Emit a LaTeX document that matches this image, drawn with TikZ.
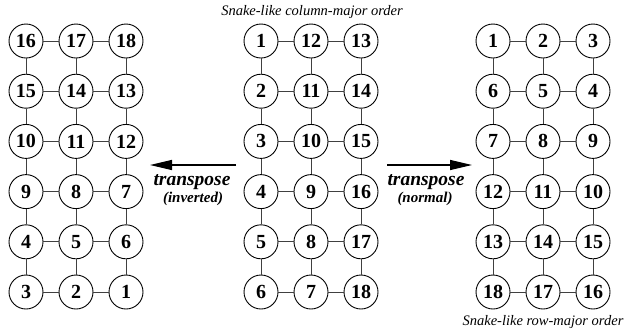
\documentclass[tikz,border=0pt]{standalone}
\usepackage{fontspec}
\setmainfont{Liberation Serif}[
  BoldFont={Liberation Serif Bold},
  ItalicFont={Liberation Serif Italic},
  BoldItalicFont={Liberation Serif Bold Italic}]
\usetikzlibrary{arrows.meta}
\begin{document}
\begin{tikzpicture}[x=1pt,y=-1pt,
  cell/.style={circle,draw=black,line width=0.9pt,minimum size=34pt,inner sep=0pt,
    font=\fontsize{20}{20}\selectfont\bfseries},
  link/.style={draw=black!75,line width=0.9pt},
  bigarrow/.style={line width=1.3pt,-{Triangle[length=22pt,width=10pt]}},
  caption/.style={font=\fontsize{14.5}{14.5}\selectfont\itshape},
  tword/.style={font=\fontsize{19.5}{19.5}\selectfont\bfseries\itshape},
  tnote/.style={font=\fontsize{15}{15}\selectfont\bfseries\itshape}]
\useasboundingbox (0,0) rectangle (626,333);

% grid numbers, row by row from the top
\def\leftnums{{16,17,18},{15,14,13},{10,11,12},{9,8,7},{4,5,6},{3,2,1}}
\def\midnums{{1,12,13},{2,11,14},{3,10,15},{4,9,16},{5,8,17},{6,7,18}}
\def\rightnums{{1,2,3},{6,5,4},{7,8,9},{12,11,10},{13,14,15},{18,17,16}}

% one 3x6 mesh: #1 = name prefix, #2 = left column x, #3 = list macro
\newcommand{\meshgrid}[3]{%
  \foreach \rowvals [count=\ri] in #3 {
    \foreach \v [count=\ci] in \rowvals {
      \node[cell] (#1-\ri-\ci) at ({#2+50*(\ci-1)},{41+50.2*(\ri-1)}) {\v};
    }
  }
  \foreach \ri in {1,...,6} {
    \draw[link] (#1-\ri-1) -- (#1-\ri-2);
    \draw[link] (#1-\ri-2) -- (#1-\ri-3);
  }
  \foreach \ri [evaluate=\ri as \rn using int(\ri+1)] in {1,...,5} {
    \foreach \ci in {1,2,3} {
      \draw[link] (#1-\ri-\ci) -- (#1-\rn-\ci);
    }
  }
}

\meshgrid{L}{26}{\leftnums}
\meshgrid{M}{261}{\midnums}
\meshgrid{R}{493}{\rightnums}

\node[caption] (colcap) at (312,12) {Snake-like column-major order};
\node[caption] (rowcap) at (543,322) {Snake-like row-major order};

% transpose arrows
\coordinate (la) at (236,165);
\coordinate (lb) at (150,165);
\coordinate (ra) at (387,165);
\coordinate (rb) at (472,165);
\draw[bigarrow] (la) -- (lb);
\draw[bigarrow] (ra) -- (rb);

\node[tword] (lt) at (192,182) {transpose};
\node[tnote] (ln) at (193,199) {(inverted)};
\node[tword] (rt) at (426,182) {transpose};
\node[tnote] (rn) at (425,199) {(normal)};
\end{tikzpicture}
\end{document}
